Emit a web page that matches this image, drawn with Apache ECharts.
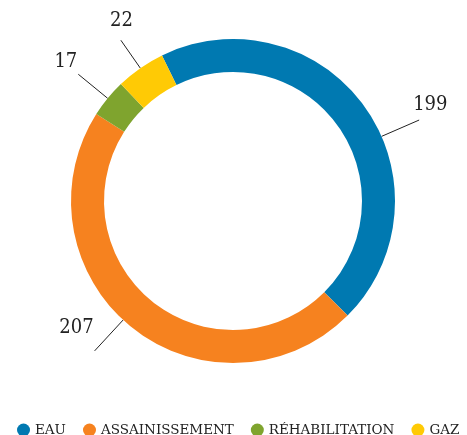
<!DOCTYPE html>
<html>
<head>
<meta charset="utf-8">
<script src="https://cdn.jsdelivr.net/npm/echarts@6/dist/echarts.min.js"></script>
<style>
html,body{margin:0;padding:0;background:#fff;}
#chart{width:467px;height:435px;}
</style>
</head>
<body>
<div id="chart"></div>
<script>
const categories = ['EAU', 'ASSAINISSEMENT', 'RÉHABILITATION', 'GAZ'];
const values = [199, 207, 17, 22];
const colors = ['#0079B1', '#F6821F', '#7FA42E', '#FFCA05'];

// per-slice label styling (line length, text placement relative to line end)
const lineLengths = [41, 42, 38, 34];
const labelLift = [30, 46, 24, 38];      // lineHeight used to lift the text above the line end
const labelGap = [-6, 1, 1, -12];        // distance between line end and text
const lineTurn = [-12, -4, 0, 0];        // degrees the leader line is turned away from the slice middle

const pieCenter = [233, 201];

const chart = echarts.init(document.getElementById('chart'), null, {renderer: 'canvas'});
const option = {
  animation: false,
  color: colors,
  legend: {
    data: categories,
    left: 12,
    right: 0,
    top: 418,
    icon: 'circle',
    itemWidth: 13,
    itemHeight: 13,
    itemGap: 17,
    textStyle: {
      fontFamily: 'DejaVu Serif',
      fontSize: 13.5,
      color: '#222'
    }
  },
  series: [{
    type: 'pie',
    center: pieCenter,
    radius: [129, 162],
    startAngle: 116,
    clockwise: true,
    avoidLabelOverlap: false,
    label: {
      show: true,
      position: 'outside',
      formatter: '{c}\n',
      fontFamily: 'DejaVu Serif Condensed, DejaVu Serif',
      fontSize: 20,
      color: '#222'
    },
    labelLine: {
      show: true,
      length2: 0,
      smooth: false,
      lineStyle: {color: '#222', width: 1}
    },
    labelLayout: function (params) {
      const turn = lineTurn[params.dataIndex];
      const pts = params.labelLinePoints;
      if (!turn || !pts) return {};
      const a = -turn * Math.PI / 180; // screen coords: positive = clockwise
      const rot = p => {
        const x = p[0] - pieCenter[0], y = p[1] - pieCenter[1];
        return [pieCenter[0] + x * Math.cos(a) - y * Math.sin(a),
                pieCenter[1] + x * Math.sin(a) + y * Math.cos(a)];
      };
      const np = pts.map(rot);
      const last = pts[pts.length - 1], nlast = np[np.length - 1];
      return {
        labelLinePoints: np,
        dx: nlast[0] - last[0],
        dy: nlast[1] - last[1]
      };
    },
    emphasis: {disabled: true},
    data: categories.map((c, i) => ({
      name: c,
      value: values[i],
      label: {lineHeight: labelLift[i], distanceToLabelLine: labelGap[i]},
      labelLine: {length: lineLengths[i], length2: 0}
    }))
  }]
};
chart.setOption(option);
</script>
</body>
</html>
